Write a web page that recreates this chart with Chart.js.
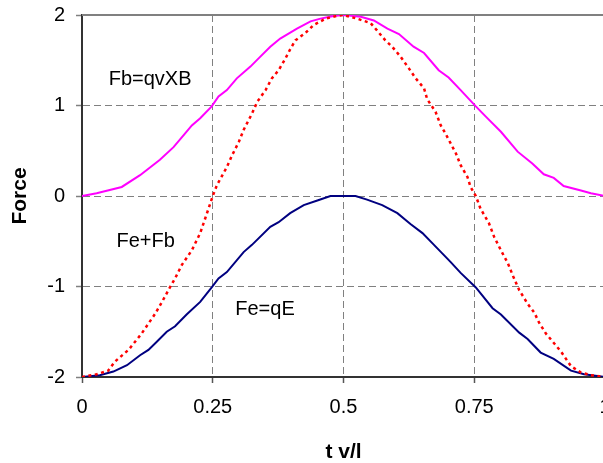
<!DOCTYPE html>
<html lang="en">
<head>
    <meta charset="UTF-8">
    <title>Force vs t v/l</title>
    <script src="https://cdn.jsdelivr.net/npm/chart.js"></script>
    <style>
        html, body { margin: 0; padding: 0; background: #fff; overflow: hidden; }
        #chart { display: block; }
    </style>
</head>
<body>
    <canvas id="chart" width="605" height="463"></canvas>

    <script>
        // values (t v/l on x, Force on y)
        let fbT = [0, 0.028, 0.076, 0.111, 0.149, 0.175, 0.194, 0.21, 0.226, 0.248, 0.261, 0.277, 0.296, 0.322, 0.341, 0.36, 0.379, 0.411, 0.437, 0.456, 0.481, 0.5, 0.533, 0.558, 0.584, 0.606, 0.634, 0.654, 0.682, 0.701, 0.724, 0.753, 0.775, 0.801, 0.833, 0.861, 0.883, 0.902, 0.921, 0.954, 0.973, 1.0];
        let fbVals = [0, 0.03, 0.10, 0.23, 0.40, 0.54, 0.67, 0.78, 0.86, 0.99, 1.10, 1.17, 1.30, 1.43, 1.54, 1.65, 1.74, 1.85, 1.93, 1.96, 1.99, 2.0, 1.98, 1.94, 1.85, 1.79, 1.65, 1.58, 1.39, 1.31, 1.17, 0.99, 0.86, 0.71, 0.49, 0.36, 0.24, 0.20, 0.11, 0.06, 0.03, 0.0];

        let feT = [0, 0.034, 0.06, 0.086, 0.111, 0.127, 0.143, 0.162, 0.178, 0.2, 0.226, 0.248, 0.261, 0.277, 0.309, 0.325, 0.36, 0.376, 0.398, 0.424, 0.45, 0.475, 0.523, 0.545, 0.574, 0.603, 0.628, 0.651, 0.673, 0.705, 0.724, 0.753, 0.785, 0.801, 0.836, 0.852, 0.877, 0.902, 0.935, 0.96, 1.0];
        let feVals = [-2.0, -1.98, -1.94, -1.87, -1.76, -1.70, -1.61, -1.50, -1.44, -1.31, -1.17, -1.01, -0.91, -0.84, -0.62, -0.54, -0.34, -0.29, -0.19, -0.10, -0.05, 0, 0, -0.04, -0.10, -0.19, -0.31, -0.41, -0.54, -0.73, -0.85, -1.01, -1.24, -1.31, -1.51, -1.58, -1.73, -1.80, -1.93, -1.97, -2.0];

        let sumT = [0, 0.028, 0.05, 0.063, 0.089, 0.114, 0.14, 0.153, 0.169, 0.178, 0.191, 0.21, 0.226, 0.239, 0.25, 0.258, 0.277, 0.287, 0.30, 0.309, 0.325, 0.335, 0.351, 0.363, 0.376, 0.389, 0.398, 0.408, 0.427, 0.443, 0.466, 0.488, 0.5, 0.526, 0.552, 0.564, 0.58, 0.593, 0.609, 0.625, 0.638, 0.654, 0.66, 0.676, 0.686, 0.695, 0.715, 0.724, 0.737, 0.743, 0.753, 0.762, 0.778, 0.788, 0.801, 0.814, 0.826, 0.836, 0.852, 0.865, 0.874, 0.887, 0.903, 0.916, 0.935, 0.954, 0.973, 1.0];
        let sumVals = [-2.0, -1.97, -1.93, -1.83, -1.70, -1.52, -1.30, -1.17, -1.0, -0.91, -0.76, -0.60, -0.41, -0.19, 0, 0.12, 0.32, 0.45, 0.60, 0.73, 0.91, 1.04, 1.17, 1.30, 1.39, 1.52, 1.62, 1.72, 1.80, 1.89, 1.96, 1.99, 2.0, 1.96, 1.91, 1.83, 1.72, 1.65, 1.54, 1.41, 1.30, 1.19, 1.07, 0.93, 0.78, 0.69, 0.47, 0.34, 0.21, 0.10, 0, -0.14, -0.30, -0.45, -0.60, -0.74, -0.91, -1.04, -1.19, -1.29, -1.40, -1.52, -1.63, -1.72, -1.88, -1.95, -1.98, -2.0];

        let xTicks = [0, 0.25, 0.5, 0.75, 1];
        let yTicks = [-2, -1, 0, 1, 2];

        // text labels in the plot, anchored in data units (left / baseline)
        let notes = [
            { text: "Fb=qvXB", t: 0.051, f: 1.227 },
            { text: "Fe+Fb", t: 0.066, f: -0.561 },
            { text: "Fe=qE", t: 0.293, f: -1.315 }
        ];

        function toPoints(ts, vs) {
            return ts.map((t, i) => ({ x: t, y: vs[i] }));
        }

        const FONT = "'Liberation Sans', Arial, sans-serif";

        // gray frame line along the top of the plot + the text labels
        const extras = {
            id: "extras",
            beforeDatasetsDraw(chart) {
                let ctx = chart.ctx, a = chart.chartArea;
                ctx.save();
                ctx.strokeStyle = "#808080";
                ctx.lineWidth = 2;
                ctx.beginPath();
                ctx.moveTo(a.left, a.top);
                ctx.lineTo(a.right, a.top);
                ctx.stroke();
                ctx.restore();
            },
            afterDraw(chart) {
                let ctx = chart.ctx;
                let xs = chart.scales.x, ys = chart.scales.y;
                ctx.save();
                ctx.fillStyle = "#000";
                ctx.font = "20px " + FONT;
                ctx.textAlign = "left";
                ctx.textBaseline = "alphabetic";
                notes.forEach(n => {
                    ctx.fillText(n.text, xs.getPixelForValue(n.t), ys.getPixelForValue(n.f));
                });
                ctx.restore();
            }
        };

        let chart = new Chart(document.getElementById("chart").getContext("2d"), {
            type: "line",
            data: {
                datasets: [
                    {
                        label: "Fe+Fb",
                        data: toPoints(sumT, sumVals),
                        borderColor: "#ff0000",
                        borderWidth: 2.5,
                        borderDash: [3, 3.5],
                        pointRadius: 0,
                        tension: 0,
                        fill: false
                    },
                    {
                        label: "Fe=qE",
                        data: toPoints(feT, feVals),
                        borderColor: "#000080",
                        borderWidth: 2,
                        pointRadius: 0,
                        tension: 0,
                        fill: false
                    },
                    {
                        label: "Fb=qvXB",
                        data: toPoints(fbT, fbVals),
                        borderColor: "#ff00ff",
                        borderWidth: 2,
                        pointRadius: 0,
                        tension: 0,
                        fill: false
                    }
                ]
            },
            options: {
                responsive: false,
                animation: false,
                devicePixelRatio: 1,
                layout: { padding: { top: 15, right: 0, bottom: 0, left: 0 } },
                plugins: { legend: { display: false }, tooltip: { enabled: false } },
                scales: {
                    x: {
                        type: "linear",
                        min: 0,
                        max: 1,
                        afterBuildTicks: s => { s.ticks = xTicks.map(v => ({ value: v })); },
                        afterFit: s => { s.height = 86; s.paddingLeft = 0; s.paddingRight = 0; },
                        ticks: {
                            color: "#000",
                            font: { family: FONT, size: 20 },
                            padding: 12,
                            maxRotation: 0,
                            callback: v => String(v)
                        },
                        grid: {
                            color: c => (c.tick && (c.tick.value === 0 || c.tick.value === 1)) ? "rgba(0,0,0,0)" : "#808080",
                            lineWidth: 1,
                            tickLength: 6,
                            tickColor: "#555",
                            tickWidth: 1.5,
                            tickBorderDash: []
                        },
                        border: { display: true, color: "#333", width: 2, dash: [7, 4] },
                        title: {
                            display: true,
                            text: "t v/l",
                            color: "#000",
                            font: { family: FONT, size: 21, weight: "bold" },
                            padding: { top: 0, bottom: -2 }
                        }
                    },
                    y: {
                        type: "linear",
                        min: -2,
                        max: 2,
                        afterBuildTicks: s => { s.ticks = yTicks.map(v => ({ value: v })); },
                        afterFit: s => { s.width = 82; s.paddingTop = 0; s.paddingBottom = 0; },
                        ticks: {
                            color: "#000",
                            font: { family: FONT, size: 20 },
                            padding: 11,
                            callback: v => String(v)
                        },
                        grid: {
                            color: c => (c.tick && (c.tick.value === 2 || c.tick.value === -2)) ? "rgba(0,0,0,0)" : "#808080",
                            lineWidth: 1,
                            tickLength: 6,
                            tickColor: "#808080",
                            tickWidth: 1.5,
                            tickBorderDash: []
                        },
                        border: { display: true, color: "#333", width: 2, dash: [7, 4] },
                        title: {
                            display: true,
                            text: "Force",
                            color: "#000",
                            font: { family: FONT, size: 21, weight: "bold" },
                            padding: { top: 8, bottom: 0 }
                        }
                    }
                }
            },
            plugins: [extras]
        });
    </script>
</body>
</html>
